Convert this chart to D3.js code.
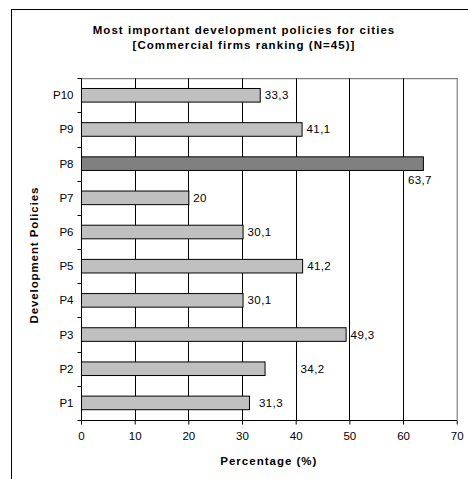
<!DOCTYPE html>
<html>
<head>
<meta charset="utf-8">
<script src="https://cdn.jsdelivr.net/npm/d3@7"></script>
<style>
  html, body { margin: 0; padding: 0; background: #fff; }
  svg { display: block; font-family: "Liberation Sans", Arial, sans-serif; }
</style>
</head>
<body>
<svg id="chart" width="468" height="479"></svg>
<script>
// Policy categories, bottom to top
const categories = ["P1", "P2", "P3", "P4", "P5", "P6", "P7", "P8", "P9", "P10"];
// Share of commercial firms ranking each policy as most important (%)
const values = [31.3, 34.2, 49.3, 30.1, 41.2, 30.1, 20, 63.7, 41.1, 33.3];
// Value labels as printed beside the bars
const valueLabels = ["31,3", "34,2", "49,3", "30,1", "41,2", "30,1", "20", "63,7", "41,1", "33,3"];
// The highlighted (top-ranked) policy
const highlighted = ["P8"];
const xTicks = [0, 10, 20, 30, 40, 50, 60, 70];
const titleLines = ["Most important development policies for cities", "[Commercial firms ranking (N=45)]"];
const xTitle = "Percentage (%)";
const yTitle = "Development Policies";

const svg = d3.select("#chart");
const plot = { left: 81, right: 456.7, top: 78.2, bottom: 420 };

// chart frame
svg.append("rect")
  .attr("x", 11.5).attr("y", 9.5)
  .attr("width", 470).attr("height", 480)
  .attr("fill", "none").attr("stroke", "#000").attr("stroke-width", 1);

const x = d3.scaleLinear().domain([0, 70]).range([plot.left, plot.right]);
const y = d3.scaleBand().domain(categories).range([plot.bottom, plot.top]).paddingInner(0).paddingOuter(0);
const barH = 13.6;

// plot area border (top and right, grey)
svg.append("path")
  .attr("d", `M${plot.left},${plot.top + 0.5}H${plot.right + 0.5}V${plot.bottom}`)
  .attr("fill", "none").attr("stroke", "#808080").attr("stroke-width", 1.2);

// vertical gridlines
svg.append("g").selectAll("line")
  .data(xTicks.filter(t => t > 0 && t < 70))
  .join("line")
  .attr("x1", d => Math.round(x(d)) + 0.5).attr("x2", d => Math.round(x(d)) + 0.5)
  .attr("y1", plot.top).attr("y2", plot.bottom)
  .attr("stroke", "#000").attr("stroke-width", 1);

// bars
svg.append("g").selectAll("rect")
  .data(categories.map((c, i) => ({ c, v: values[i], label: valueLabels[i] })))
  .join("rect")
  .attr("x", x(0) + 0.5)
  .attr("y", d => y(d.c) + y.bandwidth() / 2 - barH / 2)
  .attr("width", d => x(d.v) - x(0))
  .attr("height", barH)
  .attr("fill", d => highlighted.includes(d.c) ? "#808080" : "#c0c0c0")
  .attr("stroke", "#000").attr("stroke-width", 1);

// label placement tweaks for crowded bars
const labelShift = { P1: { dx: 5, dy: 0 }, P2: { dx: 31, dy: 0 }, P8: { dx: -20, dy: 16 } };
svg.append("g").selectAll("text")
  .data(categories.map((c, i) => ({ c, v: values[i], label: valueLabels[i] })))
  .join("text")
  .attr("x", d => x(d.v) + 5 + (labelShift[d.c] ? labelShift[d.c].dx : 0))
  .attr("y", d => y(d.c) + y.bandwidth() / 2 + 4 + (labelShift[d.c] ? labelShift[d.c].dy : 0))
  .attr("font-size", 11.5).attr("letter-spacing", 0.4).attr("fill", "#000")
  .text(d => d.label);

// x axis
const xAxis = svg.append("g")
  .attr("transform", `translate(0,${plot.bottom + 0.5})`)
  .call(d3.axisBottom(x).tickValues(xTicks).tickSize(4).tickPadding(7).tickFormat(d3.format("d")));
xAxis.select(".domain").attr("stroke", "#000").attr("d", `M${plot.left},0H${plot.right + 0.5}`);
xAxis.selectAll(".tick line").attr("stroke", "#000");
xAxis.selectAll("text").attr("font-size", 11.5).attr("font-family", "Liberation Sans, Arial, sans-serif").attr("fill", "#000");

// y axis: labels centred in bands, tick marks on band boundaries
const yAxis = svg.append("g").attr("transform", `translate(${plot.left + 0.5},0)`);
yAxis.append("line")
  .attr("x1", 0).attr("x2", 0).attr("y1", plot.top).attr("y2", plot.bottom + 0.5)
  .attr("stroke", "#000");
yAxis.selectAll("line.tk")
  .data(categories.map(c => y(c)).concat([plot.bottom]))
  .join("line").attr("class", "tk")
  .attr("x1", -4).attr("x2", 0)
  .attr("y1", d => Math.round(d) + 0.5).attr("y2", d => Math.round(d) + 0.5)
  .attr("stroke", "#000");
yAxis.selectAll("text")
  .data(categories)
  .join("text")
  .attr("x", -8)
  .attr("y", d => y(d) + y.bandwidth() / 2 + 4)
  .attr("text-anchor", "end")
  .attr("font-size", 11.5).attr("fill", "#000")
  .text(d => d);

// titles
svg.append("text")
  .attr("text-anchor", "middle").attr("font-weight", "bold").attr("font-size", 11.5)
  .attr("letter-spacing", 1.05)
  .selectAll("tspan").data(titleLines).join("tspan")
  .attr("x", 244).attr("y", (d, i) => 34 + i * 15)
  .text(d => d);

svg.append("text")
  .attr("x", x(35)).attr("y", 465)
  .attr("text-anchor", "middle").attr("font-weight", "bold").attr("font-size", 11.5)
  .attr("letter-spacing", 1)
  .text(xTitle);

svg.append("text")
  .attr("transform", `translate(38,${(plot.top + plot.bottom) / 2 + 6}) rotate(-90)`)
  .attr("text-anchor", "middle").attr("font-weight", "bold").attr("font-size", 11.5)
  .attr("letter-spacing", 0.9)
  .text(yTitle);
</script>
</body>
</html>
